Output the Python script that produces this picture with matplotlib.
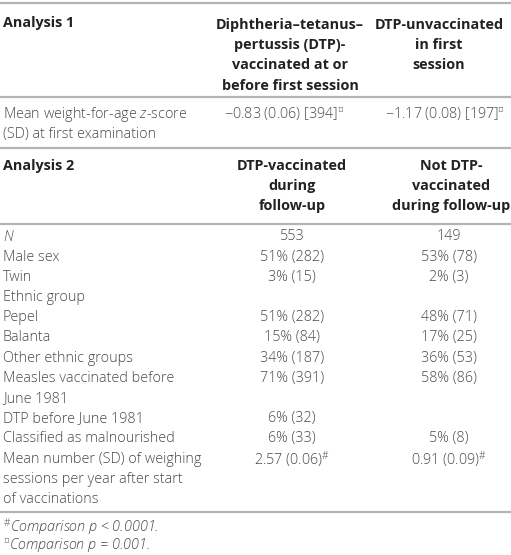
import matplotlib.pyplot as plt

# table content
a1_title = "Analysis 1"
a1_headers = ["Diphtheria\u2013tetanus\u2013\npertussis (DTP)-\nvaccinated at or\nbefore first session",
              "DTP-unvaccinated\nin first\nsession"]
a1_label = "Mean weight-for-age $\\it{z}$-score\n(SD) at first examination"
a1_values = ["\u22120.83 (0.06) [394]$^{\u00a4}$", "\u22121.17 (0.08) [197]$^{\u00a4}$"]

a2_title = "Analysis 2"
a2_headers = ["DTP-vaccinated\nduring\nfollow-up", "Not DTP-\nvaccinated\nduring follow-up"]
row_labels = ["N", "Male sex", "Twin", "Ethnic group", "Pepel", "Balanta",
              "Other ethnic groups", "Measles vaccinated before\nJune 1981",
              "DTP before June 1981", "Classified as malnourished",
              "Mean number (SD) of weighing\nsessions per year after start\nof vaccinations"]
vaccinated = ["553", "51% (282)", "3% (15)", "", "51% (282)", "15% (84)",
              "34% (187)", "71% (391)", "6% (32)", "6% (33)", "2.57 (0.06)$^{\\#}$"]
not_vaccinated = ["149", "53% (78)", "2% (3)", "", "48% (71)", "17% (25)",
                  "36% (53)", "58% (86)", "", "5% (8)", "0.91 (0.09)$^{\\#}$"]
footnotes = ["$^{\\#}$Comparison p < 0.0001.", "$^{\u00a4}$Comparison p = 0.001."]

plt.rcParams['font.family'] = ['Open Sans', 'DejaVu Sans']
plt.rcParams['mathtext.fontset'] = 'custom'
plt.rcParams['mathtext.rm'] = 'Open Sans:light'
plt.rcParams['mathtext.it'] = 'Open Sans:italic:light'

fig = plt.figure(figsize=(5.11, 5.55), dpi=100)
ax = fig.add_axes([0, 0, 1, 1])
ax.set_xlim(0, 511)
ax.set_ylim(555, 0)
ax.axis('off')

fs = 10.4
txt = '#4a4a4a'
hdr = '#222222'
line_c = '#b4b4b4'
lh = 20.2  # line height in px
x0, c1, c2 = 3, 292, 449


def hline(y):
    ax.plot([0, 511], [y, y], color=line_c, lw=1.6, solid_capstyle='butt')


def put(x, y, s, ha='left', bold=False, color=txt, style='normal'):
    ax.text(x, y, s, ha=ha, va='center', fontsize=fs, color=color,
            fontweight='bold' if bold else 'light', fontstyle=style)


def multiline(x, y, s, ha='left', bold=False, color=txt):
    for i, part in enumerate(s.split('\n')):
        put(x, y + i * lh, part, ha=ha, bold=bold, color=color)


hline(3)
put(x0, 23, a1_title, bold=True, color=hdr)
multiline(c1 - 2, 25, a1_headers[0], ha='center', bold=True, color=hdr)
multiline(c2 - 10, 25, a1_headers[1], ha='center', bold=True, color=hdr)
hline(97)
multiline(x0, 114, a1_label)
put(c1 - 8, 114, a1_values[0], ha='center')
put(c2 - 4, 114, a1_values[1], ha='center')
hline(148)

put(x0, 166, a2_title, bold=True, color=hdr)
multiline(c1, 166, a2_headers[0], ha='center', bold=True, color=hdr)
multiline(c2 + 2, 166, a2_headers[1], ha='center', bold=True, color=hdr)
hline(224)

y = 237
for lab, v1, v2 in zip(row_labels, vaccinated, not_vaccinated):
    if lab == "N":
        put(x0, y, lab, style='italic')
    else:
        multiline(x0, y, lab)
    put(c1, y, v1, ha='center')
    put(c2, y, v2, ha='center')
    y += lh * (lab.count('\n') + 1)

hline(512)
for i, fn in enumerate(footnotes):
    put(x0, 527 + i * 18.5, fn, style='italic')

fig.savefig('out.png', dpi=100)
